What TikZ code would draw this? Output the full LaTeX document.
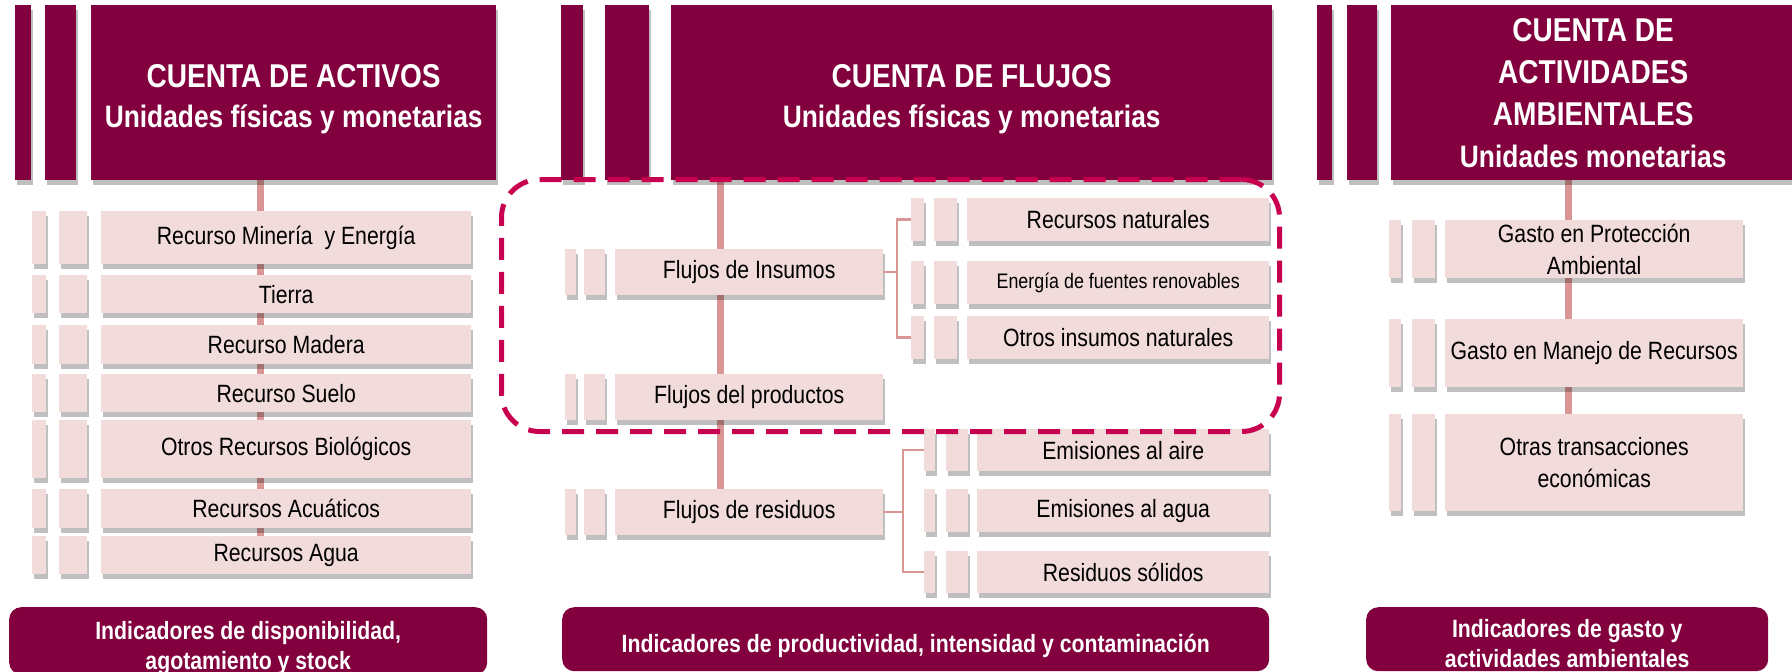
\documentclass[tikz,border=0pt]{standalone}
\usepackage{fontspec}
\setmainfont{Liberation Sans}[FakeStretch=0.85]
\usetikzlibrary{shadows,backgrounds}
\definecolor{vino}{RGB}{130,0,62}
\definecolor{rosa}{RGB}{242,220,219}
\definecolor{rosaosc}{RGB}{217,150,148}
\definecolor{carmin}{RGB}{200,0,80}

\tikzset{
  sombra/.style={drop shadow={shadow xshift=2pt,shadow yshift=-5pt,opacity=0.25,fill=black}},
  cabeza/.style={fill=vino,text=white,align=center,inner sep=0pt,anchor=north west,sombra,font=\fontsize{33}{40}\selectfont\bfseries},
  barra/.style={fill=vino,inner sep=0pt,anchor=north west,sombra},
  caja/.style={fill=rosa,align=center,inner sep=0pt,anchor=north west,sombra,font=\fontsize{25}{32}\selectfont},
  tira/.style={fill=rosa,inner sep=0pt,anchor=north west,sombra},
  indic/.style={fill=vino,text=white,align=center,inner sep=0pt,anchor=north west,rounded corners=12pt,font=\fontsize{25}{30}\selectfont\bfseries},
  tronco/.style={rosaosc,line width=7pt},
  rama/.style={rosaosc,line width=2.5pt},
  grupo/.style={draw=carmin,line width=5pt,dash pattern=on 22pt off 12pt,rounded corners=38pt,inner sep=0pt,anchor=north west}
}

\begin{document}
\begin{tikzpicture}[x=1pt,y=-1pt]
\useasboundingbox (0,0) rectangle (1792,672);

% cuenta de activos
\node[barra,minimum width=16pt,minimum height=175pt] (c1a) at (15,5) {};
\node[barra,minimum width=31pt,minimum height=175pt] (c1b) at (45,5) {};
\node[cabeza,minimum width=405pt,minimum height=175pt] (c1) at (91,5) {\rule{0pt}{36pt}CUENTA DE ACTIVOS\\{\fontsize{31}{40}\selectfont Unidades físicas y monetarias}};

\node[tira,minimum width=14pt,minimum height=53pt] (a1a) at (32,211) {};
\node[tira,minimum width=28pt,minimum height=53pt] (a1b) at (59,211) {};
\node[caja,minimum width=370pt,minimum height=53pt] (a1) at (101,211) {Recurso Minería\ \ y Energía};
\node[tira,minimum width=14pt,minimum height=38pt] (a2a) at (32,275) {};
\node[tira,minimum width=28pt,minimum height=38pt] (a2b) at (59,275) {};
\node[caja,minimum width=370pt,minimum height=38pt] (a2) at (101,275) {Tierra};
\node[tira,minimum width=14pt,minimum height=39pt] (a3a) at (32,325) {};
\node[tira,minimum width=28pt,minimum height=39pt] (a3b) at (59,325) {};
\node[caja,minimum width=370pt,minimum height=39pt] (a3) at (101,325) {Recurso Madera};
\node[tira,minimum width=14pt,minimum height=38pt] (a4a) at (32,374) {};
\node[tira,minimum width=28pt,minimum height=38pt] (a4b) at (59,374) {};
\node[caja,minimum width=370pt,minimum height=38pt] (a4) at (101,374) {Recurso Suelo};
\node[tira,minimum width=14pt,minimum height=58pt] (a5a) at (32,420) {};
\node[tira,minimum width=28pt,minimum height=58pt] (a5b) at (59,420) {};
\node[caja,minimum width=370pt,minimum height=58pt] (a5) at (101,420) {Otros Recursos Biológicos};
\node[tira,minimum width=14pt,minimum height=39pt] (a6a) at (32,489) {};
\node[tira,minimum width=28pt,minimum height=39pt] (a6b) at (59,489) {};
\node[caja,minimum width=370pt,minimum height=39pt] (a6) at (101,489) {Recursos Acuáticos};
\node[tira,minimum width=14pt,minimum height=38pt] (a7a) at (32,536) {};
\node[tira,minimum width=28pt,minimum height=38pt] (a7b) at (59,536) {};
\node[caja,minimum width=370pt,minimum height=38pt] (a7) at (101,536) {Recursos Agua};

\node[indic,minimum width=478pt,minimum height=64pt] (i1) at (9,607) {\rule{0pt}{32pt}Indicadores de disponibilidad,\\agotamiento y stock};

% cuenta de flujos
\node[barra,minimum width=22pt,minimum height=175pt] (c2a) at (561,5) {};
\node[barra,minimum width=44pt,minimum height=175pt] (c2b) at (605,5) {};
\node[cabeza,minimum width=601pt,minimum height=175pt] (c2) at (671,5) {\rule{0pt}{36pt}CUENTA DE FLUJOS\\{\fontsize{31}{40}\selectfont Unidades físicas y monetarias}};

\node[tira,minimum width=11pt,minimum height=46pt] (insa) at (565,249) {};
\node[tira,minimum width=21pt,minimum height=46pt] (insb) at (584,249) {};
\node[caja,minimum width=268pt,minimum height=46pt] (ins) at (615,249) {Flujos de Insumos};
\node[tira,minimum width=11pt,minimum height=46pt] (proa) at (565,374) {};
\node[tira,minimum width=21pt,minimum height=46pt] (prob) at (584,374) {};
\node[caja,minimum width=268pt,minimum height=46pt] (pro) at (615,374) {Flujos del productos};
\node[tira,minimum width=11pt,minimum height=46pt] (resa) at (565,489) {};
\node[tira,minimum width=21pt,minimum height=46pt] (resb) at (584,489) {};
\node[caja,minimum width=268pt,minimum height=46pt] (res) at (615,489) {Flujos de residuos};

\node[tira,minimum width=13pt,minimum height=43pt] (rna) at (911,198) {};
\node[tira,minimum width=23pt,minimum height=43pt] (rnb) at (934,198) {};
\node[caja,minimum width=302pt,minimum height=43pt] (rn) at (967,198) {Recursos naturales};
\node[tira,minimum width=13pt,minimum height=43pt] (era) at (911,261) {};
\node[tira,minimum width=23pt,minimum height=43pt] (erb) at (934,261) {};
\node[caja,minimum width=302pt,minimum height=43pt,font=\fontsize{21}{25}\selectfont] (er) at (967,261) {Energía de fuentes renovables};
\node[tira,minimum width=13pt,minimum height=43pt] (oia) at (911,316) {};
\node[tira,minimum width=23pt,minimum height=43pt] (oib) at (934,316) {};
\node[caja,minimum width=302pt,minimum height=43pt] (oi) at (967,316) {Otros insumos naturales};

\node[tira,minimum width=11pt,minimum height=42pt] (eaa) at (924,429) {};
\node[tira,minimum width=22pt,minimum height=42pt] (eab) at (946,429) {};
\node[caja,minimum width=292pt,minimum height=42pt] (ea) at (977,429) {Emisiones al aire};
\node[tira,minimum width=11pt,minimum height=43pt] (ega) at (924,489) {};
\node[tira,minimum width=22pt,minimum height=43pt] (egb) at (946,489) {};
\node[caja,minimum width=292pt,minimum height=43pt] (eg) at (977,489) {Emisiones al agua};
\node[tira,minimum width=11pt,minimum height=42pt] (rsa) at (924,551) {};
\node[tira,minimum width=22pt,minimum height=42pt] (rsb) at (946,551) {};
\node[caja,minimum width=292pt,minimum height=42pt] (rs) at (977,551) {Residuos sólidos};

\node[indic,minimum width=707pt,minimum height=64pt] (i2) at (562,607) {\rule{0pt}{32pt}Indicadores de productividad, intensidad y contaminación};

% cuenta de actividades ambientales
\node[barra,minimum width=15pt,minimum height=175pt] (c3a) at (1317,5) {};
\node[barra,minimum width=30pt,minimum height=175pt] (c3b) at (1347,5) {};
\node[cabeza,minimum width=404pt,minimum height=175pt,font=\fontsize{33}{42}\selectfont\bfseries] (c3) at (1391,5) {CUENTA DE\\ACTIVIDADES\\AMBIENTALES\\{\fontsize{31}{42}\selectfont Unidades monetarias}};

\node[tira,minimum width=12pt,minimum height=58pt] (gpa) at (1389,220) {};
\node[tira,minimum width=23pt,minimum height=58pt] (gpb) at (1412,220) {};
\node[caja,minimum width=298pt,minimum height=58pt] (gp) at (1445,220) {Gasto en Protección\\Ambiental};
\node[tira,minimum width=12pt,minimum height=68pt] (gma) at (1389,319) {};
\node[tira,minimum width=23pt,minimum height=68pt] (gmb) at (1412,319) {};
\node[caja,minimum width=298pt,minimum height=68pt] (gm) at (1445,319) {Gasto en Manejo de Recursos};
\node[tira,minimum width=12pt,minimum height=97pt] (ota) at (1389,414) {};
\node[tira,minimum width=23pt,minimum height=97pt] (otb) at (1412,414) {};
\node[caja,minimum width=298pt,minimum height=97pt] (ot) at (1445,414) {Otras transacciones\\económicas};

\node[indic,minimum width=402pt,minimum height=64pt] (i3) at (1366,607) {\rule{0pt}{26pt}Indicadores de gasto y\\actividades ambientales};

% conectores
\coordinate (t1) at (260,0);
\coordinate (t2) at (720,0);
\coordinate (t3) at (1568,0);
\coordinate (j1) at (897,0);
\coordinate (j2) at (903,0);
\begin{scope}[on background layer]
\draw[tronco] (c1.south -| t1) -- (a7.north -| t1);
\draw[tronco] (c2.south -| t2) -- (res.north -| t2);
\draw[tronco] (c3.south -| t3) -- (ot.north -| t3);
\end{scope}
\draw[rama] (ins.east) -- (ins.east -| j1);
\draw[rama] (rna.west) -- (rna.west -| j1) -- (oia.west -| j1) -- (oia.west);
\draw[rama] (res.east) -- (res.east -| j2);
\draw[rama] (eaa.west) -- (eaa.west -| j2) -- (rsa.west -| j2) -- (rsa.west);

% grupo punteado
\node[grupo,minimum width=778pt,minimum height=252pt] (grp) at (499,177) {};
\end{tikzpicture}
\end{document}
